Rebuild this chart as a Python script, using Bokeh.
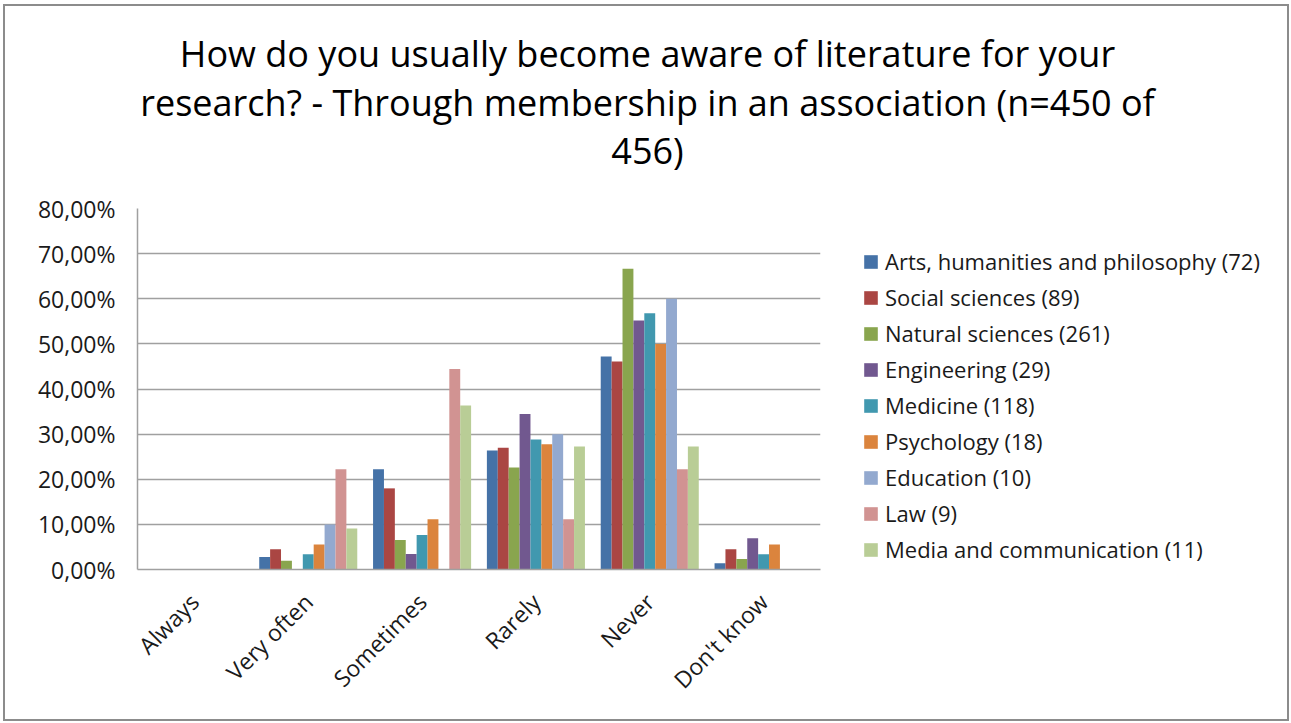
import math
from bokeh.plotting import figure
from bokeh.models import (ColumnDataSource, FactorRange, Range1d, FixedTicker,
                          Legend, LegendItem, Label)
from bokeh.layouts import column, row
from bokeh.transform import dodge
from bokeh.embed import file_html
from bokeh.resources import INLINE

# ---------------- data ----------------
categories = ["Always", "Very often", "Sometimes", "Rarely", "Never", "Don't know"]

series_names = [
    "Arts, humanities and philosophy (72)",
    "Social sciences (89)",
    "Natural sciences (261)",
    "Engineering (29)",
    "Medicine (118)",
    "Psychology (18)",
    "Education (10)",
    "Law (9)",
    "Media and communication (11)",
]

arts = [0, 2.78, 22.22, 26.39, 47.22, 1.39]
social = [0, 4.49, 17.98, 26.97, 46.07, 4.49]
natural = [0, 1.92, 6.51, 22.61, 66.67, 2.30]
engineering = [0, 0, 3.45, 34.48, 55.17, 6.90]
medicine = [0, 3.39, 7.63, 28.81, 56.78, 3.39]
psychology = [0, 5.56, 11.11, 27.78, 50.00, 5.56]
education = [0, 10.00, 0, 30.00, 60.00, 0]
law = [0, 22.22, 44.44, 11.11, 22.22, 0]
media = [0, 9.09, 36.36, 27.27, 27.27, 0]

series_values = [arts, social, natural, engineering, medicine, psychology,
                 education, law, media]

colors = ["#4572A7", "#AA4643", "#89A54E", "#71588F", "#4198AF",
          "#DB843D", "#93A9CF", "#D19392", "#B9CD96"]

y_ticks = [0, 10, 20, 30, 40, 50, 60, 70, 80]
y_tick_labels = ["0,00%", "10,00%", "20,00%", "30,00%", "40,00%",
                 "50,00%", "60,00%", "70,00%", "80,00%"]

title_lines = [
    "How do you usually become aware of literature for your",
    "research? - Through membership in an association (n=450 of",
    "456)",
]

FONT = "Open Sans"
TOTAL_W = 1282

# ---------------- title strip ----------------
TITLE_H = 182
t = figure(width=TOTAL_W, height=TITLE_H, x_range=Range1d(0, TOTAL_W),
           y_range=Range1d(0, TITLE_H), x_axis_type=None, y_axis_type=None,
           min_border=0, output_backend="svg", toolbar_location=None,
           background_fill_color="white", border_fill_color="white")
t.outline_line_color = None
t.grid.visible = False
title_baselines = [135, 86, 38]
for txt, yb in zip(title_lines, title_baselines):
    t.add_layout(Label(x=642, y=yb, text=txt, text_align="center",
                       text_baseline="alphabetic", text_font=FONT,
                       text_font_size="36px", text_color="#000000"))

# ---------------- main chart ----------------
MAIN_W, MAIN_H = 820, 531
p = figure(
    x_range=FactorRange(factors=categories, range_padding=0),
    y_range=Range1d(0, 80),
    width=MAIN_W, height=MAIN_H,
    min_border_left=132, min_border_right=5,
    min_border_top=20, min_border_bottom=150,
    output_backend="svg", toolbar_location=None,
    background_fill_color="white", border_fill_color="white",
)
p.outline_line_color = None

data = {"cat": categories}
for i, vals in enumerate(series_values):
    data[f"s{i}"] = vals
source = ColumnDataSource(data)

bar_w = 0.0957
for i, name in enumerate(series_names):
    off = (i - 4) * bar_w
    p.vbar(x=dodge("cat", off, range=p.x_range), top=f"s{i}", width=bar_w,
           source=source, fill_color=colors[i], line_color=None)

xaxis = p.xaxis[0]
yaxis = p.yaxis[0]
yaxis.ticker = FixedTicker(ticks=y_ticks)
yaxis.major_label_overrides = {tk: lb for tk, lb in zip(y_ticks, y_tick_labels)}
for ax in (xaxis, yaxis):
    ax.axis_line_color = "#a0a0a0"
    ax.axis_line_width = 1.5
    ax.major_tick_line_color = None
    ax.minor_tick_line_color = None
    ax.major_tick_out = 0
    ax.major_tick_in = 0
    ax.major_label_text_font = FONT
    ax.major_label_text_font_size = "23px"
    ax.major_label_text_color = "#1a1a1a"
yaxis.major_label_standoff = 22
xaxis.major_label_orientation = math.pi / 4
xaxis.major_label_standoff = 28

p.xgrid.grid_line_color = None
p.ygrid.grid_line_color = "#a0a0a0"
p.ygrid.grid_line_width = 1.5

# ---------------- legend panel ----------------
LEG_W = TOTAL_W - MAIN_W
lg = figure(width=LEG_W, height=MAIN_H, x_range=Range1d(0, 1), y_range=Range1d(0, 1),
            x_axis_type=None, y_axis_type=None,
            min_border_left=0, min_border_right=0, min_border_bottom=0,
            min_border_top=20,
            output_backend="svg", toolbar_location=None,
            background_fill_color="white", border_fill_color="white")
lg.outline_line_color = None
lg.grid.visible = False
# swatch-only renderers: one zero-height bar outside the visible range
swatch_src = ColumnDataSource({"x": [-5.0], "top": [0.0]})
items = []
for i, name in enumerate(series_names):
    r = lg.vbar(x="x", top="top", width=0.1, source=swatch_src,
                fill_color=colors[i], line_color=None)
    items.append(LegendItem(label=name, renderers=[r]))
legend = Legend(items=items, location="top_left", orientation="vertical",
                ncols=1,
                border_line_color=None, background_fill_alpha=0,
                padding=0, margin=37, spacing=4,
                glyph_width=17, glyph_height=17, label_height=32,
                label_standoff=6,
                label_text_font=FONT, label_text_font_size="22px",
                label_text_color="#1a1a1a")
lg.add_layout(legend, "center")

layout = column(t, row(p, lg, spacing=0), spacing=0)
layout.styles = {"border": "2px solid #8c8c8c", "margin-left": "3px",
                 "margin-top": "4px", "background-color": "white"}

open("out.html", "w").write(file_html(layout, INLINE))
